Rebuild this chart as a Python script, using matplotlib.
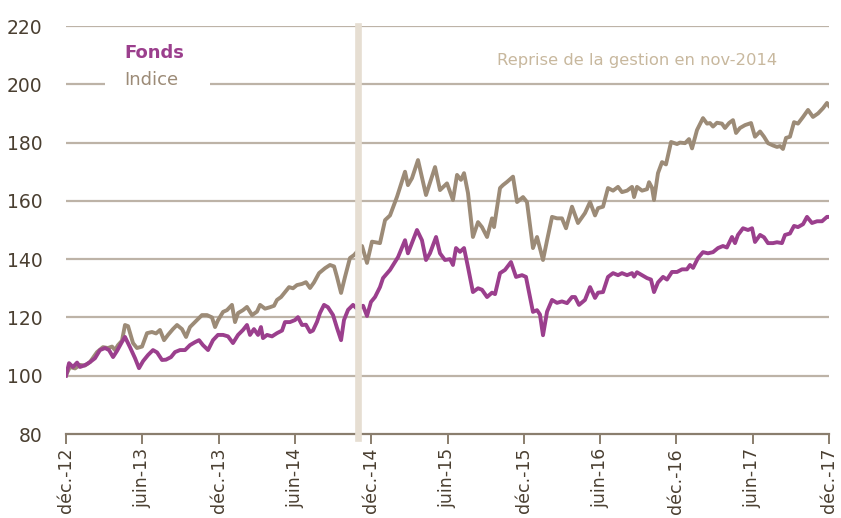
import matplotlib
matplotlib.use("Agg")
import matplotlib.pyplot as plt
from matplotlib.patches import Rectangle

# months since end of Dec 2012
indice_t = [0.00, 0.31, 0.71, 1.10, 1.49, 1.89, 2.44, 2.91, 3.30, 3.62, 3.85, 4.09, 4.40, 4.64, 4.88,
            5.27, 5.58, 5.98, 6.37, 6.76, 7.08, 7.39, 7.71, 8.02, 8.41, 8.73, 9.12, 9.44, 9.75, 10.30,
            10.69, 11.09, 11.48, 11.72, 11.95, 12.35, 12.66, 13.05, 13.29, 13.53, 13.92, 14.23, 14.63,
            15.02, 15.26, 15.65, 16.04, 16.36, 16.59, 16.91, 17.22, 17.54, 17.85, 18.16, 18.56, 18.87,
            19.19, 19.50, 19.90, 20.37, 20.76, 21.08, 21.31, 21.63, 21.94, 22.33, 22.65,
            23.28, 23.67, 24.06, 24.69, 25.09, 25.48, 26.03, 26.66, 26.89, 27.21, 27.68, 28.31, 29.02,
            29.41, 29.96, 30.43, 30.75, 31.06, 31.30, 31.61, 32.00, 32.40, 32.71, 33.11, 33.50, 33.66,
            34.13, 34.36, 34.68, 35.15, 35.47, 35.94, 36.25, 36.72, 37.04, 37.51, 37.83, 38.22, 38.61,
            39.00, 39.32, 39.79, 40.26, 40.81, 41.21, 41.60, 41.84, 42.23, 42.62, 43.02, 43.41, 43.72,
            44.12, 44.51, 44.67, 44.90, 45.30, 45.69, 45.85, 46.08, 46.24, 46.55, 46.87, 47.18, 47.58,
            48.05, 48.28, 48.68, 48.99, 49.23, 49.62, 50.09, 50.41, 50.64, 50.88, 51.19, 51.58, 51.82,
            52.14, 52.45, 52.69, 53.00, 53.40, 53.87, 54.18, 54.58, 54.89, 55.20, 55.60, 55.91, 56.15,
            56.38, 56.62, 56.93, 57.25, 57.56, 57.96, 58.35, 58.74, 59.14, 59.53, 59.84, 60.00]
indice_v = [100.2, 103, 102.5, 103.7, 103.5, 104.7, 108.1, 109.8, 109.5, 110, 108.8, 110.5, 112, 117.4, 117,
            111.2, 109.5, 110, 114.6, 115, 114.5, 115.7, 112.2, 114, 116, 117.4, 116, 113.3, 116.7, 119.1,
            120.8, 120.8, 120, 116.7, 119, 121.9, 122.5, 124.3, 118.4, 121.5, 122.5, 123.6, 120.8,
            122, 124.3, 123, 123.5, 124, 126, 127, 128.7, 130.4, 130, 131.1, 131.5, 132.1,
            130.1, 132, 135.2, 136.9, 138, 137.5, 133.9, 128.4, 133.9, 140.4, 141.4,
            144.5, 138.7, 146, 145.5, 153.4, 155, 161.4, 170, 165.4, 167.8, 174, 162, 171.6,
            163.7, 166, 160.3, 168.9, 167.2, 169.5, 162.7, 147.6, 152.7, 151, 147.6, 154, 151,
            164.4, 165.4, 166.5, 168.3, 159.6, 161.3, 159.6, 143.8, 147.6, 139.7, 146.5, 154.5, 154,
            154, 150.6, 158, 152.4, 155.8, 159.6, 155, 157.5, 158, 164.4, 163.5, 164.8, 163,
            163.5, 164.8, 161.3, 164.8, 163.5, 164, 166.4, 164.5, 160.3, 169.5, 173.3, 172.5, 180.2,
            179.5, 180, 179.8, 181.2, 178, 184.3, 188.4, 186.5, 186.7, 185.5, 186.8, 186.5, 185,
            186.7, 187.7, 183.3, 185, 186, 186.7, 182, 183.8, 182, 179.8, 179, 178.5, 178.8,
            177.8, 181.6, 182, 187, 186.5, 188.8, 191.2, 188.8, 190, 191.8, 193.6, 192.6]

fonds_t = [0.00, 0.24, 0.55, 0.87, 1.10, 1.42, 1.65, 1.89, 2.28, 2.67, 3.07, 3.38, 3.70, 4.01, 4.40, 4.64,
           5.03, 5.43, 5.74, 6.06, 6.45, 6.84, 7.16, 7.55, 7.86, 8.26, 8.57, 8.96, 9.36, 9.75, 10.14,
           10.46, 10.77, 11.17, 11.56, 11.95, 12.35, 12.74, 13.13, 13.53, 13.92, 14.23, 14.47, 14.78,
           15.10, 15.33, 15.49, 15.81, 16.20, 16.59, 16.99, 17.22, 17.61, 18.01, 18.24, 18.56, 18.87,
           19.19, 19.42, 19.74, 19.97, 20.29, 20.60, 21.00, 21.31, 21.63, 21.86, 22.18, 22.57, 22.88,
           23.36, 23.67, 23.98, 24.30, 24.69, 24.93, 25.48, 26.11, 26.66, 26.89, 27.29, 27.60, 27.99,
           28.31, 28.62, 29.10, 29.41, 29.80, 30.20, 30.43, 30.67, 30.98, 31.30, 31.61, 32.00, 32.40,
           32.71, 33.11, 33.50, 33.74, 34.13, 34.52, 34.99, 35.39, 35.86, 36.17, 36.72, 37.04, 37.27,
           37.51, 37.83, 38.22, 38.61, 39.00, 39.40, 39.79, 40.03, 40.34, 40.81, 41.21, 41.60, 41.84,
           42.23, 42.62, 43.02, 43.41, 43.72, 44.12, 44.51, 44.67, 44.90, 45.30, 45.69, 46.00, 46.24,
           46.55, 46.95, 47.26, 47.65, 48.05, 48.44, 48.83, 49.07, 49.31, 49.70, 50.09, 50.48, 50.88,
           51.27, 51.66, 51.97, 52.37, 52.61, 52.84, 53.24, 53.63, 53.95, 54.18, 54.58, 54.89, 55.20,
           55.60, 55.91, 56.30, 56.54, 56.93, 57.25, 57.56, 57.96, 58.27, 58.66, 59.06, 59.45, 59.84, 60.00]
fonds_v = [100, 104.3, 103, 104.5, 103, 103.5, 104, 104.7, 106, 108.8, 109.5, 108.8, 106.4, 108.5, 111.6, 113.3,
           109.8, 106, 102.6, 105, 107.1, 108.8, 108, 105.4, 105.5, 106.4, 108.1, 108.8, 108.8, 110.5, 111.5,
           112.2, 110.5, 108.8, 112.2, 114, 114, 113.5, 111.2, 114, 115.7, 117.4, 114, 116,
           114, 116.7, 112.9, 114, 113.5, 114.6, 115.5, 118.4, 118.4, 119.1, 120.1, 117.4, 117.5,
           115, 115.5, 118.5, 121.5, 124.3, 123.5, 120.8, 116.4, 112.2, 119.1, 122.6, 124.3, 123,
           124, 120.5, 125.3, 127, 130.4, 133.5, 136.3, 140.7, 146.5, 142, 146.5, 150, 146.5,
           139.7, 142, 147.6, 142, 139.7, 140, 138, 143.8, 142.5, 143.8, 137.3, 128.7, 130,
           129.5, 127, 128.5, 128, 135.2, 136.3, 139, 133.9, 134.5, 133.9, 121.9, 122.5, 121,
           113.9, 122, 126, 125, 125.5, 124.9, 127, 127, 124.3, 126, 130.4, 126.7, 128.5,
           128.7, 133.9, 135.2, 134.5, 135.2, 134.5, 135.2, 134, 135.5, 134.5, 133.5, 133, 128.7,
           132, 133.9, 133, 135.6, 135.6, 136.5, 136.5, 138, 137, 140.4, 142.4, 142, 142.4,
           143.8, 144.5, 144, 147.6, 145.5, 148.3, 150.6, 150, 150.6, 145.9, 148.3, 147.5, 145.5,
           145.5, 145.8, 145.5, 148.3, 148.8, 151.4, 151, 152, 154.5, 152.4, 153, 153, 154.5, 154.5]

tick_pos = [0, 6, 12, 18, 24, 30, 36, 42, 48, 54, 60]
tick_labels = ["déc.-12", "juin-13", "déc.-13", "juin-14", "déc.-14", "juin-15",
               "déc.-15", "juin-16", "déc.-16", "juin-17", "déc.-17"]
y_ticks = [80, 100, 120, 140, 160, 180, 200, 220]
reprise_month = 23.0

C_FONDS = "#9b3f8d"
C_INDICE = "#9c8b77"
C_GRID = "#bdb3a7"
C_TEXT = "#4a3f31"

fig = plt.figure(figsize=(8.41, 5.18), dpi=100)
ax = fig.add_axes([66/841, 1-434/518, (829-66)/841, (434-26)/518])
ax.set_xlim(0, 60)
ax.set_ylim(80, 220)

for yv in y_ticks[1:]:
    ax.axhline(yv, color=C_GRID, lw=1.6, zorder=1)

ax.plot(indice_t, indice_v, color=C_INDICE, lw=2.8, zorder=3, solid_joinstyle="round")
ax.plot(fonds_t, fonds_v, color=C_FONDS, lw=2.8, zorder=4, solid_joinstyle="round")

ax.axvline(reprise_month, ymin=-0.01, ymax=1, color="#e6ded2", lw=4.8, zorder=5, clip_on=False)

for s in ["top", "right", "left"]:
    ax.spines[s].set_visible(False)
ax.spines["bottom"].set_color("#8a7e6e")
ax.spines["bottom"].set_linewidth(1.6)

ax.set_yticks(y_ticks)
ax.set_yticklabels([str(v) for v in y_ticks], fontsize=13.5, color=C_TEXT)
ax.tick_params(axis="y", length=0, pad=17)
ax.set_xticks(tick_pos)
ax.set_xticklabels(tick_labels, rotation=90, fontsize=12.5, color=C_TEXT)
ax.tick_params(axis="x", length=7, width=1.4, color="#8a7e6e", pad=3)

# legend box
ax.add_patch(Rectangle((0.051, 0.83), 0.138, 0.12, transform=ax.transAxes,
                       facecolor="white", edgecolor="none", zorder=6))
ax.text(0.076, 0.935, "Fonds", transform=ax.transAxes, color=C_FONDS, fontsize=13,
        fontweight="bold", va="center", ha="left", zorder=7)
ax.text(0.076, 0.868, "Indice", transform=ax.transAxes, color=C_INDICE, fontsize=13,
        va="center", ha="left", zorder=7)

ax.text(0.749, 0.915, "Reprise de la gestion en nov-2014", transform=ax.transAxes,
        color="#c8b89e", fontsize=11.8, va="center", ha="center", zorder=7)

fig.savefig("out.png", dpi=100)
